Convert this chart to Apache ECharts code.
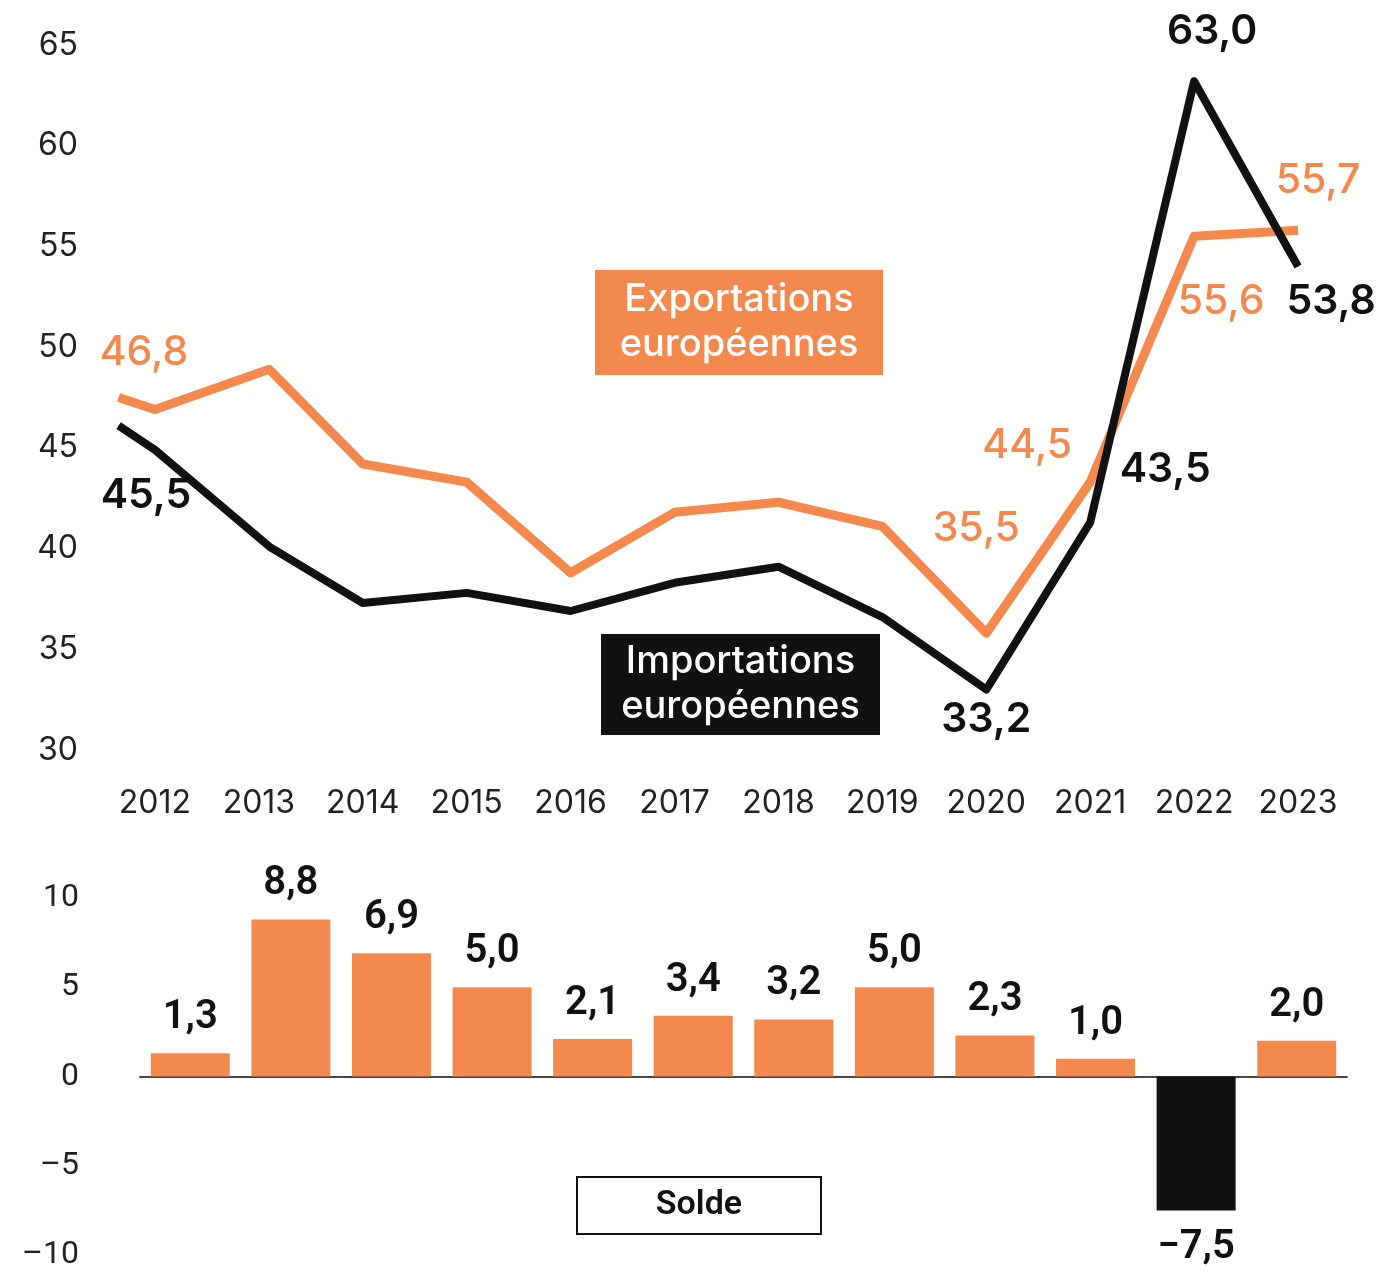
<!DOCTYPE html>
<html>
<head>
<meta charset="utf-8">
<script src="https://cdn.jsdelivr.net/npm/echarts@6/dist/echarts.min.js"></script>
<style>
  html, body { margin: 0; padding: 0; background: #fff; }
  #chart { width: 1384px; height: 1278px; }
</style>
</head>
<body>
<div id="chart"></div>
<script>
// years shown under the line chart
const years = [2012, 2013, 2014, 2015, 2016, 2017, 2018, 2019, 2020, 2021, 2022, 2023]
// x position of each drawn vertex (the lines start a little before 2012)
const linePointsX = [2011.65, 2012, 2013.1, 2014, 2015, 2016, 2017, 2018, 2019, 2020, 2021, 2022, 2023]
const exportValues = [47.5, 46.9, 48.9, 44.2, 43.3, 38.8, 41.8, 42.3, 41.1, 35.8, 43.3, 55.5, 55.8]
const importValues = [46.1, 44.9, 40.1, 37.3, 37.8, 36.9, 38.3, 39.1, 36.6, 33.0, 41.3, 63.2, 54.0]
// printed values next to the lines
const exportLabels = ['', '46,8', '', '', '', '', '', '', '', '35,5', '44,5', '55,6', '55,7']
const importLabels = ['', '45,5', '', '', '', '', '', '', '', '33,2', '43,5', '63,0', '53,8']
// trade balance (solde)
const balanceValues = [1.3, 8.8, 6.9, 5.0, 2.1, 3.4, 3.2, 5.0, 2.3, 1.0, -7.5, 2.0]

const ORANGE = '#f5884d'
const BLACK = '#111111'
const TOP_FONT = 'Inter, "Noto Sans", sans-serif'
const BAR_FONT = 'Roboto, "Noto Sans", sans-serif'

// where each printed label sits relative to its vertex
const exportOffsets = { 1: [-11, -57], 9: [-10, -104], 10: [-63, -36], 11: [27, 65], 12: [20, -50] }
const importOffsets = { 1: [-9, 46], 9: [0, 30], 10: [75, -53], 11: [18, -50], 12: [33, 35] }

const fmt = (v) => v.toFixed(1).replace('.', ',').replace('-', '\u2212')

const buildLine = (xs, ys, labels, offsets, color, weight) =>
  xs.map((x, i) => {
    const item = { value: [x, ys[i]] }
    if (labels[i]) {
      item.label = {
        show: true,
        position: 'inside',
        offset: offsets[i],
        formatter: labels[i],
        color,
        fontFamily: TOP_FONT,
        fontSize: 41,
        fontWeight: weight
      }
    }
    return item
  })

const chart = echarts.init(document.getElementById('chart'), null, { renderer: 'canvas' })

const boxText = (x, y, w, h, text, fill, textFill, stroke, font) => ({
  type: 'group',
  children: [
    {
      type: 'rect',
      shape: { x, y, width: w, height: h },
      style: { fill, stroke: stroke || null, lineWidth: stroke ? 2 : 0 }
    },
    {
      type: 'text',
      style: {
        x: x + w / 2,
        y: y + h / 2,
        text,
        fill: textFill,
        font,
        align: 'center',
        verticalAlign: 'middle',
        lineHeight: 45
      }
    }
  ]
})

chart.setOption({
  animation: false,
  backgroundColor: '#fff',
  grid: [
    { left: 103, right: 34, top: 45, bottom: 528 },
    { left: 140, right: 37, top: 898, bottom: 23 }
  ],
  xAxis: [
    {
      gridIndex: 0,
      type: 'value',
      min: 2011.5,
      max: 2023.5,
      splitLine: { show: false },
      axisLine: { show: false },
      axisTick: { show: false },
      axisLabel: {
        customValues: years,
        formatter: (v) => String(Math.round(v)),
        margin: 37,
        color: '#222',
        fontFamily: TOP_FONT,
        fontSize: 32
      }
    },
    {
      gridIndex: 1,
      type: 'category',
      data: years,
      axisLine: { show: true, onZero: true, lineStyle: { color: '#444', width: 2 } },
      axisTick: { show: false },
      axisLabel: { show: false }
    }
  ],
  yAxis: [
    {
      gridIndex: 0,
      type: 'value',
      min: 30,
      max: 65,
      interval: 5,
      splitLine: { show: false },
      axisLine: { show: false },
      axisTick: { show: false },
      axisLabel: {
        margin: 25,
        color: '#222',
        fontFamily: TOP_FONT,
        fontSize: 32
      }
    },
    {
      gridIndex: 1,
      type: 'value',
      min: -10,
      max: 10,
      interval: 5,
      splitLine: { show: false },
      axisLine: { show: false },
      axisTick: { show: false },
      axisLabel: {
        margin: 61,
        color: '#222',
        fontFamily: BAR_FONT,
        fontSize: 32,
        formatter: (v) => String(v).replace('-', '\u2013')
      }
    }
  ],
  series: [
    {
      name: 'Exportations européennes',
      type: 'line',
      xAxisIndex: 0,
      yAxisIndex: 0,
      data: buildLine(linePointsX, exportValues, exportLabels, exportOffsets, ORANGE, 500),
      symbol: 'circle',
      symbolSize: 1,
      itemStyle: { color: ORANGE },
      lineStyle: { color: ORANGE, width: 9, join: 'round' },
      z: 3
    },
    {
      name: 'Importations européennes',
      type: 'line',
      xAxisIndex: 0,
      yAxisIndex: 0,
      data: buildLine(linePointsX, importValues, importLabels, importOffsets, BLACK, 600),
      symbol: 'circle',
      symbolSize: 1,
      itemStyle: { color: BLACK },
      lineStyle: { color: BLACK, width: 8, join: 'round' },
      z: 4
    },
    {
      name: 'Solde',
      type: 'bar',
      xAxisIndex: 1,
      yAxisIndex: 1,
      barWidth: 79,
      data: balanceValues.map((v) => ({
        value: v,
        itemStyle: { color: v < 0 ? BLACK : ORANGE },
        label: { position: v < 0 ? 'bottom' : 'top', distance: v < 0 ? 18 : 15 }
      })),
      label: {
        show: true,
        formatter: (p) => fmt(p.value),
        color: '#111',
        fontFamily: BAR_FONT,
        fontSize: 40,
        fontWeight: 600
      }
    }
  ],
  graphic: [
    boxText(595, 270, 288, 105, 'Exportations\neuropéennes', ORANGE, '#fff', null, '500 38px ' + TOP_FONT),
    boxText(601, 634, 279, 101, 'Importations\neuropéennes', BLACK, '#fff', null, '500 38px ' + TOP_FONT),
    boxText(577, 1177, 244, 57, 'Solde', '#fff', '#111', '#111', '600 34px ' + BAR_FONT)
  ]
})
</script>
</body>
</html>
